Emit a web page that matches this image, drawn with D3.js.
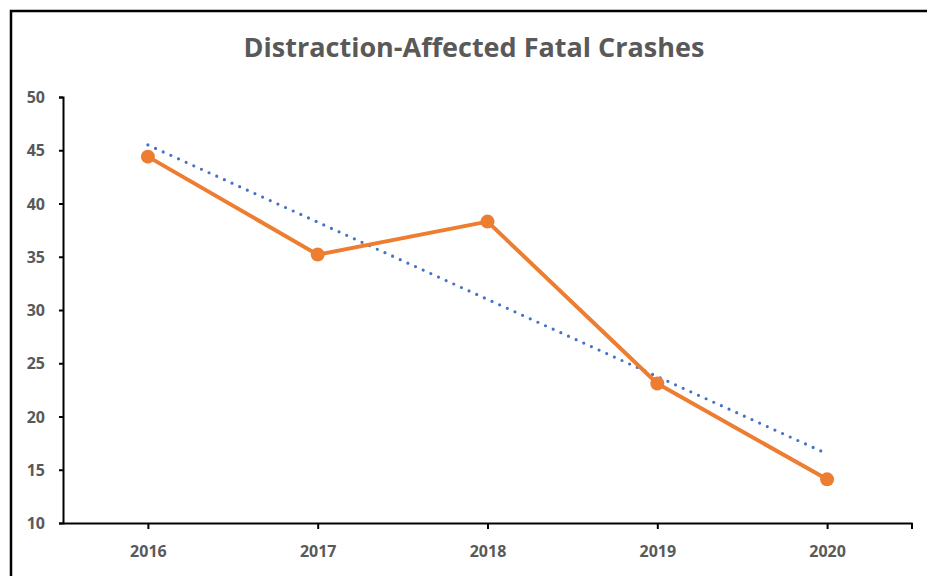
<!DOCTYPE html>
<html>
<head>
<meta charset="utf-8">
<script src="https://cdn.jsdelivr.net/npm/d3@7"></script>
<style>
  body { margin: 0; background: #fff; }
  text { font-family: "Open Sans", "Noto Sans", sans-serif; font-weight: bold; fill: #595959; }
</style>
</head>
<body>
<div id="chart"></div>
<script>
// Chart data
const years = ["2016", "2017", "2018", "2019", "2020"];
const crashes = [44.4, 35.2, 38.3, 23.1, 14.1];
// linear trendline end points
const trendYears = ["2016", "2020"];
const trendValues = [45.5, 16.5];
const yTicks = [10, 15, 20, 25, 30, 35, 40, 45, 50];

const width = 927;
const height = 576;

const svg = d3
  .select("#chart")
  .append("svg")
  .attr("width", width)
  .attr("height", height);

// frame around the chart area (runs off right/bottom)
svg
  .append("path")
  .attr("d", "M11,580 V11 H930")
  .attr("fill", "none")
  .attr("stroke", "#000")
  .attr("stroke-width", 2.5);

const x = d3.scalePoint().domain(years).range([63, 912]).padding(0.5);
const y = d3.scaleLinear().domain([10, 50]).range([523, 97]);

// title
svg
  .append("text")
  .attr("x", 474)
  .attr("y", 57)
  .attr("text-anchor", "middle")
  .style("font-size", "27px")
  .text("Distraction-Affected Fatal Crashes");

// y axis
const yAxis = svg
  .append("g")
  .attr("transform", "translate(63,0)")
  .call(d3.axisLeft(y).tickValues(yTicks).tickSize(4).tickPadding(14));
yAxis.select(".domain").attr("stroke-width", 2);
yAxis.selectAll(".tick line").attr("stroke-width", 2);
yAxis.selectAll("text").style("font-size", "16px").attr("fill", "#595959").attr("dy", "0.35em");

// x axis
const xAxis = svg
  .append("g")
  .attr("transform", "translate(0,523)")
  .call(d3.axisBottom(x).tickSize(6).tickSizeOuter(0).tickPadding(17));
xAxis.select(".domain").attr("stroke-width", 2);
xAxis.selectAll(".tick line").attr("stroke-width", 2);
xAxis.selectAll("text").style("font-size", "16px").attr("fill", "#595959");
// closing tick at the right end of the axis
xAxis
  .append("line")
  .attr("x1", 912)
  .attr("x2", 912)
  .attr("y1", 0)
  .attr("y2", 6)
  .attr("stroke", "#000")
  .attr("stroke-width", 2);

// trendline (dotted)
const trendLine = d3
  .line()
  .x((d, i) => x(trendYears[i]))
  .y((d) => y(d));
svg
  .append("path")
  .datum(trendValues)
  .attr("d", trendLine)
  .attr("fill", "none")
  .attr("stroke", "#4472C4")
  .attr("stroke-width", 3.2)
  .attr("stroke-linecap", "round")
  .attr("stroke-dasharray", "0 8.4");

// data line
const line = d3
  .line()
  .x((d, i) => x(years[i]))
  .y((d) => y(d));
svg
  .append("path")
  .datum(crashes)
  .attr("d", line)
  .attr("fill", "none")
  .attr("stroke", "#ED7D31")
  .attr("stroke-width", 4)
  .attr("stroke-linejoin", "round");

svg
  .selectAll("circle.pt")
  .data(crashes)
  .enter()
  .append("circle")
  .attr("class", "pt")
  .attr("cx", (d, i) => x(years[i]))
  .attr("cy", (d) => y(d))
  .attr("r", 7)
  .attr("fill", "#ED7D31");
</script>
</body>
</html>
